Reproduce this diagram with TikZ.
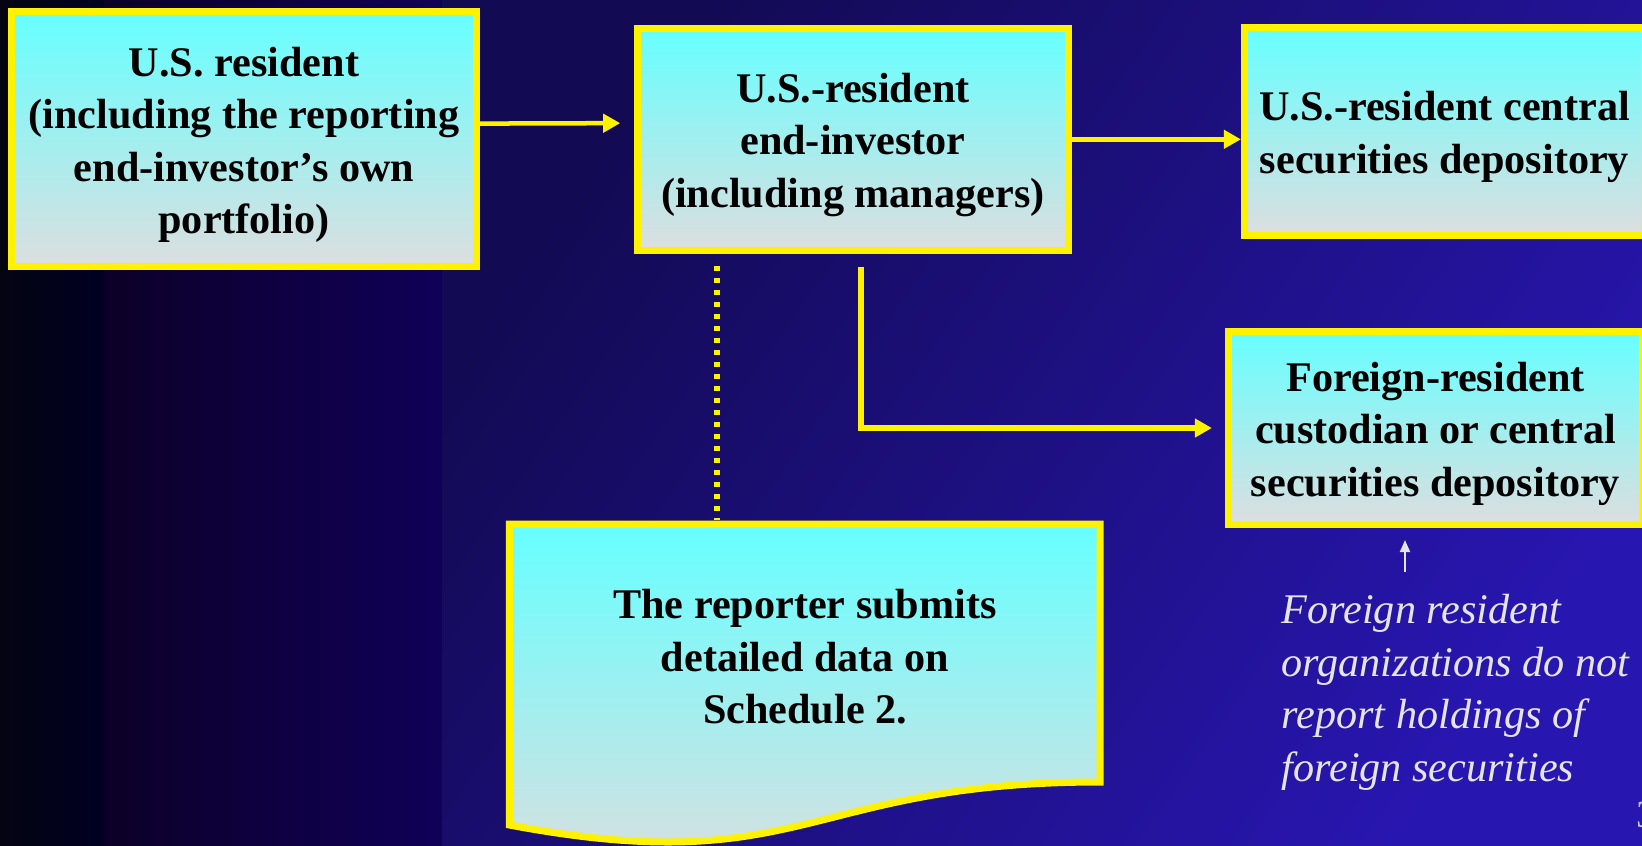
\documentclass[tikz,border=0pt]{standalone}
\usepackage{fontspec}
\setmainfont{Liberation Serif}
\usetikzlibrary{positioning, arrows.meta}

\definecolor{boxtop}{RGB}{102,255,255}
\definecolor{boxbot}{RGB}{221,222,223}
\definecolor{notegrey}{RGB}{228,228,234}
\definecolor{bgA}{RGB}{4,4,18}
\definecolor{bgB}{RGB}{0,0,34}
\definecolor{bgC}{RGB}{12,0,40}
\definecolor{bgD}{RGB}{16,0,88}
\definecolor{bgE}{RGB}{18,10,82}
\definecolor{bgF}{RGB}{30,15,144}
\definecolor{bgG}{RGB}{40,22,176}
\newcommand{\boxstrut}{\rule{0pt}{11.5pt}}

\begin{document}
\begin{tikzpicture}[x=0.01cm, y=-0.01cm,
      node distance=1.54cm,
      box/.style={rectangle, draw=yellow, line width=0.07cm, top color=boxtop, bottom color=boxbot,
        align=center, inner sep=0pt, font=\bfseries\fontsize{12pt}{14.9pt}\selectfont},
      link/.style={yellow, line width=0.045cm, -{Triangle[width=0.18cm, length=0.17cm]}},
      dotline/.style={yellow, line width=0.055cm, dash pattern=on 0.053cm off 0.067cm},
      note/.style={align=left, inner sep=0pt, text=notegrey, font=\itshape\fontsize{12pt}{14.9pt}\selectfont}]
    \useasboundingbox (0,0) rectangle (1642,845);
    % background
    \shade[left color=bgA, right color=bgB] (0,0) rectangle (104,845);
    \shade[left color=bgC, right color=bgD] (104,0) rectangle (442,845);
    \shade[top color=bgE, middle color=bgF, bottom color=bgG, shading angle=55] (442,0) rectangle (1642,845);

    \node[box, minimum width=4.64cm, minimum height=2.55cm] (usres) at (244,139.3)
      {\boxstrut U.S. resident\\(including the reporting\\end-investor's own\\portfolio)};
    \node[box, minimum width=4.31cm, minimum height=2.22cm, right=of usres] (endinv)
      {\boxstrut U.S.-resident\\end-investor\\(including managers)};
    \node[box, minimum width=4.00cm, minimum height=2.08cm] (uscsd) at (1444.5,131.5)
      {\boxstrut U.S.-resident central\\securities depository};
    \node[box, minimum width=4.14cm, minimum height=1.93cm] (forcust) at (1435.5,428)
      {\boxstrut Foreign-resident\\custodian or central\\securities depository};

    % document shape
    \draw[yellow, line width=0.07cm, top color=boxtop, bottom color=boxbot]
      (509.3,524) -- (1100.2,524) -- (1100.2,782)
      .. controls (804.7,782) and (804.7,880.6) .. (509.3,825) -- cycle;
    \node[align=center, font=\bfseries\fontsize{12pt}{14.9pt}\selectfont] (report) at (805,657)
      {The reporter submits\\detailed data on\\Schedule 2.};
    \coordinate (doctop) at (717,520);

    \draw[link, shorten >=0.135cm] ([yshift=0.157cm]usres.east) -- ([yshift=0.162cm]endinv.west);
    \draw[link] (endinv.east) -- (endinv.east -| uscsd.west);
    \draw[dotline, shorten <=0.12cm] (endinv.south -| doctop) -- (doctop);
    \draw[link, line width=0.06cm, shorten <=0.13cm, shorten >=0.13cm]
      ([xshift=0.086cm]endinv.south) |- (forcust.west);

    \node[note, anchor=north west] (fornote) at (1281,594)
      {Foreign resident\\organizations do not\\report holdings of\\foreign securities};
    \draw[notegrey, line width=0.02cm, -{Triangle[width=0.1cm, length=0.12cm]}, shorten <=0.22cm, shorten >=0.12cm]
      ([xshift=-0.305cm]forcust.south |- fornote.north) -- ([xshift=-0.305cm]forcust.south);

    \node[anchor=west, inner sep=0pt, text=notegrey!85!black, font=\fontsize{11pt}{13pt}\selectfont] (pagenum) at (1636,815) {3};
\end{tikzpicture}
\end{document}
